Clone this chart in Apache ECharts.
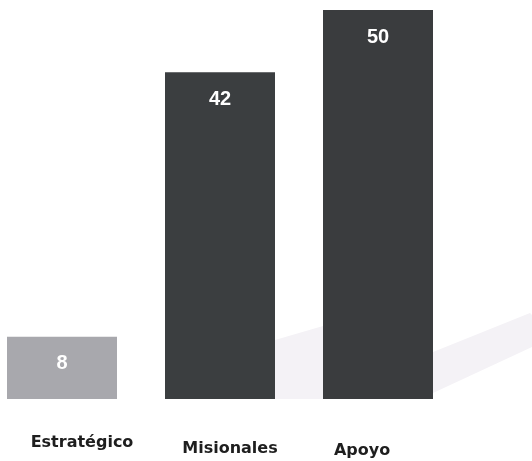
<!DOCTYPE html>
<html><head><meta charset="utf-8">
<script src="https://cdn.jsdelivr.net/npm/echarts@6/dist/echarts.min.js"></script>
<style>html,body{margin:0;padding:0;background:#fff}#c{width:532px;height:461px}</style>
</head><body><div id="c"></div>
<script>
const categories = ['Estratégico', 'Misionales', 'Apoyo'];
const values = [8, 42, 50];
const barColors = ['#a8a8ad', '#3b3e40', '#3a3c3e'];
const labelShift = [[0,0,0,40],[6,0,0,20],[8,32,0,0]];

const chart = echarts.init(document.getElementById('c'));
chart.setOption({
  animation: false,
  grid: { left: -17, right: 75, top: 10, bottom: 62, outerBoundsMode: 'none', containLabel: false },
  graphic: [
    { type: 'polygon', z: -10, shape: { points: [[275,340],[323,326],[323,399],[275,399]] },
      style: { fill: '#f4f2f6' } },
    { type: 'polygon', z: -10, shape: { points: [[433,352],[530,313],[532,315],[532,347],[433,393]] },
      style: { fill: '#f4f2f6' } }
  ],
  xAxis: {
    type: 'category',
    data: categories.map((c, i) => ({ value: c, textStyle: { padding: labelShift[i] } })),
    axisLine: { show: false }, axisTick: { show: false },
    axisLabel: { margin: 36, fontFamily: 'DejaVu Sans', fontWeight: 'bold', fontSize: 16, color: '#1e1e1e' }
  },
  yAxis: { type: 'value', min: 0, max: 50, show: false, splitLine: { show: false } },
  series: [{
    type: 'bar',
    z: 5,
    barWidth: 110,
    data: values.map((v, i) => ({ value: v, itemStyle: { color: barColors[i] } })),
    label: { show: true, position: 'insideTop', distance: 17, color: '#fff',
      fontFamily: 'Liberation Sans', fontWeight: 'bold', fontSize: 20 }
  }]
});
</script></body></html>
